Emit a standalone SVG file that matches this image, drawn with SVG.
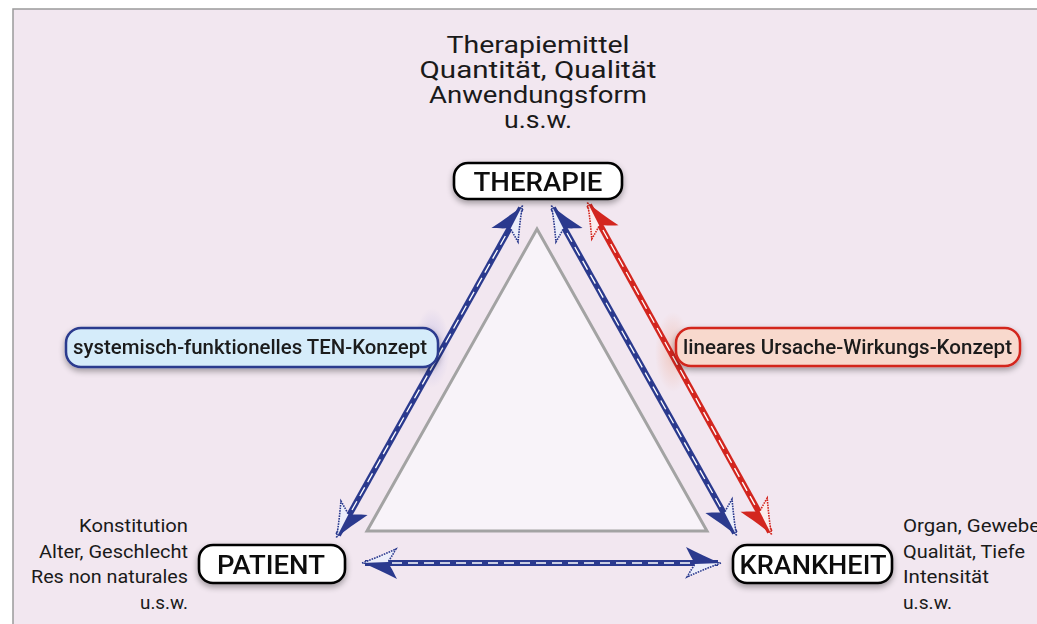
<svg xmlns="http://www.w3.org/2000/svg" width="1037" height="624" viewBox="0 0 1037 624">
<style>
.t{font-family:Roboto,Lato,"Liberation Sans",sans-serif;fill:#1a1a1a;font-variant-ligatures:none}
.top{font-size:23px;text-anchor:middle}
.side{font-size:18.5px}
.node{font-size:26px;font-weight:500;text-anchor:middle;fill:#111}
.lab{font-size:20px;font-weight:500}
.nbox{fill:#fff;stroke:#000;stroke-width:2.6}
.sh{stroke-width:6;fill:none;stroke-linecap:butt}
.dash{stroke:#fff;stroke-width:1.3;stroke-dasharray:10 6;fill:none}
.blue{stroke:#2b3a8e}
.red{stroke:#d3261f}
</style>
<defs>
<filter id="shadow" x="-20%" y="-40%" width="140%" height="190%">
<feGaussianBlur in="SourceAlpha" stdDeviation="3"/>
<feOffset dx="0" dy="3" result="b"/>
<feComponentTransfer><feFuncA type="linear" slope="0.35"/></feComponentTransfer>
<feMerge><feMergeNode/><feMergeNode in="SourceGraphic"/></feMerge>
</filter>
<marker id="bA" markerUnits="userSpaceOnUse" viewBox="-36 -18 40 36" refX="0" refY="0" markerWidth="40" markerHeight="36" orient="auto-start-reverse" overflow="visible">
<path d="M3,0 C-8,-4 -20,-10 -32,-16 C-28,-8 -26,-4 -23,0 L-23,3 L3,0 Z" fill="#2b3a8e"/>
<path d="M3,0 C-8,4 -20,9 -31,14 C-27,7 -25,4 -23,1" fill="#eceefa" stroke="#2b3a8e" stroke-width="1.6" stroke-dasharray="1.6 1"/>
</marker>
<marker id="bB" markerUnits="userSpaceOnUse" viewBox="-36 -18 40 36" refX="0" refY="0" markerWidth="40" markerHeight="36" orient="auto-start-reverse" overflow="visible">
<path d="M3,0 C-8,4 -20,10 -32,16 C-28,8 -26,4 -23,0 L-23,-3 L3,0 Z" fill="#2b3a8e"/>
<path d="M3,0 C-8,-4 -20,-9 -31,-14 C-27,-7 -25,-4 -23,-1" fill="#eceefa" stroke="#2b3a8e" stroke-width="1.6" stroke-dasharray="1.6 1"/>
</marker>
<marker id="rB" markerUnits="userSpaceOnUse" viewBox="-36 -18 40 36" refX="0" refY="0" markerWidth="40" markerHeight="36" orient="auto-start-reverse" overflow="visible">
<path d="M3,0 C-8,4 -20,10 -32,16 C-28,8 -26,4 -23,0 L-23,-3 L3,0 Z" fill="#d3261f"/>
<path d="M3,0 C-8,-4 -20,-9 -31,-14 C-27,-7 -25,-4 -23,-1" fill="#fbecec" stroke="#d3261f" stroke-width="1.6" stroke-dasharray="1.6 1"/>
</marker>
<radialGradient id="glowB"><stop offset="0" stop-color="#c7c0e6" stop-opacity="0.8"/><stop offset="1" stop-color="#c7c0e6" stop-opacity="0"/></radialGradient>
<radialGradient id="glowR"><stop offset="0" stop-color="#f0c0b4" stop-opacity="0.8"/><stop offset="1" stop-color="#f0c0b4" stop-opacity="0"/></radialGradient>
</defs>

<rect x="0" y="0" width="1037" height="624" fill="#fff"/>
<rect id="panel" x="13" y="9" width="1040" height="630" fill="#f2e7f0" stroke="#9a9a9a" stroke-width="1.5"/>

<polygon id="triangle" points="537,229 367,531 707,531" fill="#f8f3f9" stroke="#a3a3a3" stroke-width="3" stroke-linejoin="miter"/>

<ellipse cx="432" cy="348" rx="18" ry="40" fill="url(#glowB)"/>
<ellipse cx="673" cy="352" rx="18" ry="40" fill="url(#glowR)"/>

<g id="connectors">
<g id="arrow-patient-therapie">
<line class="sh blue" x1="338" y1="535" x2="521" y2="208" marker-start="url(#bA)" marker-end="url(#bA)"/>
<line class="dash" x1="352" y1="510" x2="507" y2="233"/>
</g>
<g id="arrow-therapie-krankheit">
<line class="sh blue" x1="553" y1="208" x2="735" y2="533" marker-start="url(#bB)" marker-end="url(#bB)"/>
<line class="dash" x1="567" y1="233" x2="721" y2="508"/>
</g>
<g id="arrow-therapie-krankheit-red">
<line class="sh red" x1="589" y1="205" x2="770" y2="532" marker-start="url(#rB)" marker-end="url(#rB)"/>
<line class="dash" x1="603" y1="230" x2="756" y2="507"/>
</g>
<g id="arrow-patient-krankheit">
<line class="sh blue" x1="365" y1="563" x2="718" y2="563" marker-start="url(#bA)" marker-end="url(#bA)"/>
<line class="dash" x1="392" y1="563" x2="692" y2="563"/>
</g>
</g>

<g id="therapie-notes">
<text class="t top" x="538" y="53" textLength="183" lengthAdjust="spacingAndGlyphs">Therapiemittel</text>
<text class="t top" x="538" y="78" textLength="237" lengthAdjust="spacingAndGlyphs">Quantität, Qualität</text>
<text class="t top" x="538" y="103" textLength="218" lengthAdjust="spacingAndGlyphs">Anwendungsform</text>
<text class="t top" x="538" y="128" textLength="68" lengthAdjust="spacingAndGlyphs">u.s.w.</text>
</g>

<g id="therapie" filter="url(#shadow)">
<rect class="nbox" x="454" y="163" width="168" height="36" rx="14"/>
<text class="t node" x="538" y="191" textLength="129" lengthAdjust="spacingAndGlyphs">THERAPIE</text>
</g>

<g id="patient" filter="url(#shadow)">
<rect class="nbox" x="199" y="545" width="146" height="38" rx="14"/>
<text class="t node" x="271" y="574" textLength="108" lengthAdjust="spacingAndGlyphs">PATIENT</text>
</g>

<g id="krankheit" filter="url(#shadow)">
<rect class="nbox" x="733" y="545" width="159" height="38" rx="14"/>
<text class="t node" x="813" y="574" textLength="147" lengthAdjust="spacingAndGlyphs">KRANKHEIT</text>
</g>

<g id="patient-notes">
<text class="t side" x="188" y="532" text-anchor="end" textLength="109" lengthAdjust="spacingAndGlyphs">Konstitution</text>
<text class="t side" x="188" y="558" text-anchor="end" textLength="149" lengthAdjust="spacingAndGlyphs">Alter, Geschlecht</text>
<text class="t side" x="188" y="583" text-anchor="end" textLength="157" lengthAdjust="spacingAndGlyphs">Res non naturales</text>
<text class="t side" x="188" y="609" text-anchor="end" textLength="48" lengthAdjust="spacingAndGlyphs">u.s.w.</text>
</g>

<g id="krankheit-notes">
<text class="t side" x="903" y="532" textLength="137" lengthAdjust="spacingAndGlyphs">Organ, Gewebe</text>
<text class="t side" x="903" y="558" textLength="122" lengthAdjust="spacingAndGlyphs">Qualität, Tiefe</text>
<text class="t side" x="903" y="583" textLength="86" lengthAdjust="spacingAndGlyphs">Intensität</text>
<text class="t side" x="903" y="609" textLength="49" lengthAdjust="spacingAndGlyphs">u.s.w.</text>
</g>

<g id="label-systemisch" filter="url(#shadow)">
<rect x="66" y="328" width="372" height="39" rx="15" fill="#d5ecfa" stroke="#2b3a8e" stroke-width="2.5"/>
<text class="t lab" x="73" y="354" textLength="354" lengthAdjust="spacingAndGlyphs">systemisch-funktionelles TEN-Konzept</text>
</g>

<g id="label-linear" filter="url(#shadow)">
<rect x="676" y="328" width="344" height="38" rx="15" fill="#f8d9cd" stroke="#d3261f" stroke-width="2.5"/>
<text class="t lab" x="683" y="354" textLength="329" lengthAdjust="spacingAndGlyphs">lineares Ursache-Wirkungs-Konzept</text>
</g>
</svg>
